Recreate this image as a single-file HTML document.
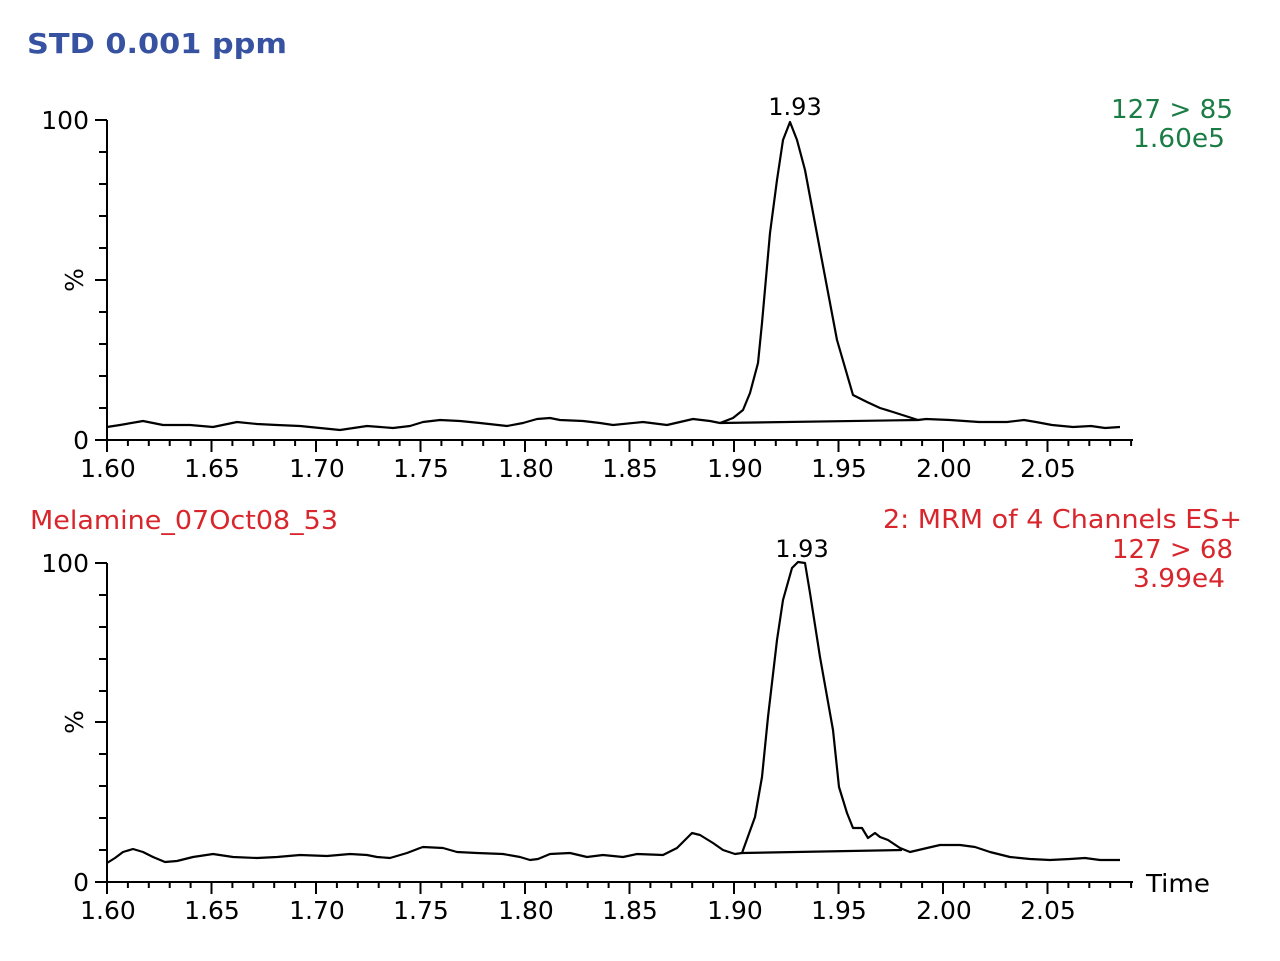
<!DOCTYPE html>
<html><head><meta charset="utf-8"><style>
html,body{margin:0;padding:0;background:#fff;}
svg{display:block;}
text{font-family:"DejaVu Sans","Liberation Sans",sans-serif;}
</style></head><body>
<svg width="1280" height="961" viewBox="0 0 1280 961" xmlns="http://www.w3.org/2000/svg">
<rect width="1280" height="961" fill="#fff"/>
<text x="27" y="53" font-size="28" font-weight="bold" fill="#3852a2" textLength="260" lengthAdjust="spacingAndGlyphs">STD 0.001 ppm</text>

<!-- TOP CHART -->
<g stroke="#000" stroke-width="2" fill="none">
<path d="M107,120 V441 M107,440 H1133"/>
<path d="M95,120H107 M95,280H107 M95,440H107 M99,152H107 M99,184H107 M99,216H107 M99,248H107 M99,312H107 M99,344H107 M99,376H107 M99,408H107"/>
<path d="M107,440v12 M127.9,440v6 M148.8,440v6 M169.7,440v6 M190.6,440v6 M211.5,440v12 M232.4,440v6 M253.3,440v6 M274.2,440v6 M295.1,440v6 M316,440v12 M336.9,440v6 M357.8,440v6 M378.7,440v6 M399.6,440v6 M420.5,440v12 M441.4,440v6 M462.3,440v6 M483.2,440v6 M504.1,440v6 M525,440v12 M545.9,440v6 M566.8,440v6 M587.7,440v6 M608.6,440v6 M629.5,440v12 M650.4,440v6 M671.3,440v6 M692.2,440v6 M713.1,440v6 M734,440v12 M754.9,440v6 M775.8,440v6 M796.7,440v6 M817.6,440v6 M838.5,440v12 M859.4,440v6 M880.3,440v6 M901.2,440v6 M922.1,440v6 M943,440v12 M963.9,440v6 M984.8,440v6 M1005.7,440v6 M1026.6,440v6 M1047.5,440v12 M1068.4,440v6 M1089.3,440v6 M1110.2,440v6 M1131.1,440v6"/>
<polyline stroke-width="2.2" stroke-linejoin="round" points="107,427 120,425 143,421 163,425 190,425 213,427 237,422 257,424 277,425 300,426 320,428 340,430 367,426 393,428 410,426 423,422 440,420 460,421 480,423 507,426 523,423 537,419 550,418 560,420 583,421 600,423 613,425 643,422 667,425 693,419 710,421 720,423 733,418 743,410 750,393 758,363 762,323 770,233 777,180 783,140 790,122 797,140 805,170 820,250 837,340 853,395 867,402 880,408 893,412 918,420 926,419 950,420 979,422 1007,422 1024,420 1036,422 1052,425 1073,427 1091,426 1105,428 1120,427"/>
<line x1="720" y1="423" x2="918" y2="420" stroke-width="2.2"/>
</g>
<g font-size="25" fill="#000">
<text x="89" y="129" text-anchor="end">100</text>
<text x="89" y="449" text-anchor="end">0</text>
<text transform="translate(83,280) rotate(-90)" text-anchor="middle">%</text>
<text x="795" y="115" text-anchor="middle" font-size="24">1.93</text>
<g text-anchor="middle">
<text x="108" y="477">1.60</text><text x="212" y="477">1.65</text><text x="317" y="477">1.70</text><text x="421" y="477">1.75</text><text x="526" y="477">1.80</text><text x="630" y="477">1.85</text><text x="735" y="477">1.90</text><text x="839" y="477">1.95</text><text x="944" y="477">2.00</text><text x="1048" y="477">2.05</text>
</g>
</g>
<text x="1111" y="118" font-size="26" fill="#1a7d45" textLength="122" lengthAdjust="spacingAndGlyphs">127 &gt; 85</text>
<text x="1133" y="147" font-size="26" fill="#1a7d45" textLength="92" lengthAdjust="spacingAndGlyphs">1.60e5</text>

<!-- BOTTOM CHART -->
<text x="30" y="529" font-size="26" fill="#d8262c" textLength="308" lengthAdjust="spacingAndGlyphs">Melamine_07Oct08_53</text>
<text x="883" y="528" font-size="26" fill="#d8262c" textLength="359" lengthAdjust="spacingAndGlyphs">2: MRM of 4 Channels ES+</text>
<text x="1112" y="558" font-size="26" fill="#d8262c" textLength="121" lengthAdjust="spacingAndGlyphs">127 &gt; 68</text>
<text x="1133" y="587" font-size="26" fill="#d8262c" textLength="92" lengthAdjust="spacingAndGlyphs">3.99e4</text>

<g stroke="#000" stroke-width="2" fill="none">
<path d="M107,563 V883 M107,882 H1133"/>
<path d="M95,563H107 M95,722H107 M95,882H107 M99,595H107 M99,627H107 M99,659H107 M99,691H107 M99,754H107 M99,786H107 M99,818H107 M99,850H107"/>
<g transform="translate(0,442)">
<path d="M107,440v12 M127.9,440v6 M148.8,440v6 M169.7,440v6 M190.6,440v6 M211.5,440v12 M232.4,440v6 M253.3,440v6 M274.2,440v6 M295.1,440v6 M316,440v12 M336.9,440v6 M357.8,440v6 M378.7,440v6 M399.6,440v6 M420.5,440v12 M441.4,440v6 M462.3,440v6 M483.2,440v6 M504.1,440v6 M525,440v12 M545.9,440v6 M566.8,440v6 M587.7,440v6 M608.6,440v6 M629.5,440v12 M650.4,440v6 M671.3,440v6 M692.2,440v6 M713.1,440v6 M734,440v12 M754.9,440v6 M775.8,440v6 M796.7,440v6 M817.6,440v6 M838.5,440v12 M859.4,440v6 M880.3,440v6 M901.2,440v6 M922.1,440v6 M943,440v12 M963.9,440v6 M984.8,440v6 M1005.7,440v6 M1026.6,440v6 M1047.5,440v12 M1068.4,440v6 M1089.3,440v6 M1110.2,440v6 M1131.1,440v6"/>
</g>
<polyline stroke-width="2.2" stroke-linejoin="round" points="107,863 115,858 123,852 133,849 143,852 153,857 165,862 177,861 193,857 213,854 233,857 257,858 277,857 300,855 327,856 350,854 367,855 377,857 390,858 407,853 420,848 423,847 443,848 457,852 477,853 503,854 520,857 530,860 538,859 550,854 570,853 587,857 603,855 623,857 637,854 663,855 677,848 692,833 700,835 713,843 723,850 735,854 742,853 755,817 762,777 768,717 777,640 783,600 792,568 798,562 805,563 810,593 820,657 833,730 839,787 847,813 853,828 862,828 868,838 875,833 880,837 888,840 900,848 910,852 927,848 940,845 960,845 975,847 990,852 1010,857 1030,859 1050,860 1070,859 1085,858 1100,860 1120,860"/>
<line x1="742" y1="853" x2="902" y2="850" stroke-width="2.2"/>
</g>
<g font-size="25" fill="#000">
<text x="89" y="572" text-anchor="end">100</text>
<text x="89" y="891" text-anchor="end">0</text>
<text transform="translate(83,722) rotate(-90)" text-anchor="middle">%</text>
<text x="802" y="557" text-anchor="middle" font-size="24">1.93</text>
<text x="1146" y="892" textLength="64" lengthAdjust="spacingAndGlyphs">Time</text>
<g text-anchor="middle">
<text x="108" y="919">1.60</text><text x="212" y="919">1.65</text><text x="317" y="919">1.70</text><text x="421" y="919">1.75</text><text x="526" y="919">1.80</text><text x="630" y="919">1.85</text><text x="735" y="919">1.90</text><text x="839" y="919">1.95</text><text x="944" y="919">2.00</text><text x="1048" y="919">2.05</text>
</g>
</g>
</svg>
</body></html>
